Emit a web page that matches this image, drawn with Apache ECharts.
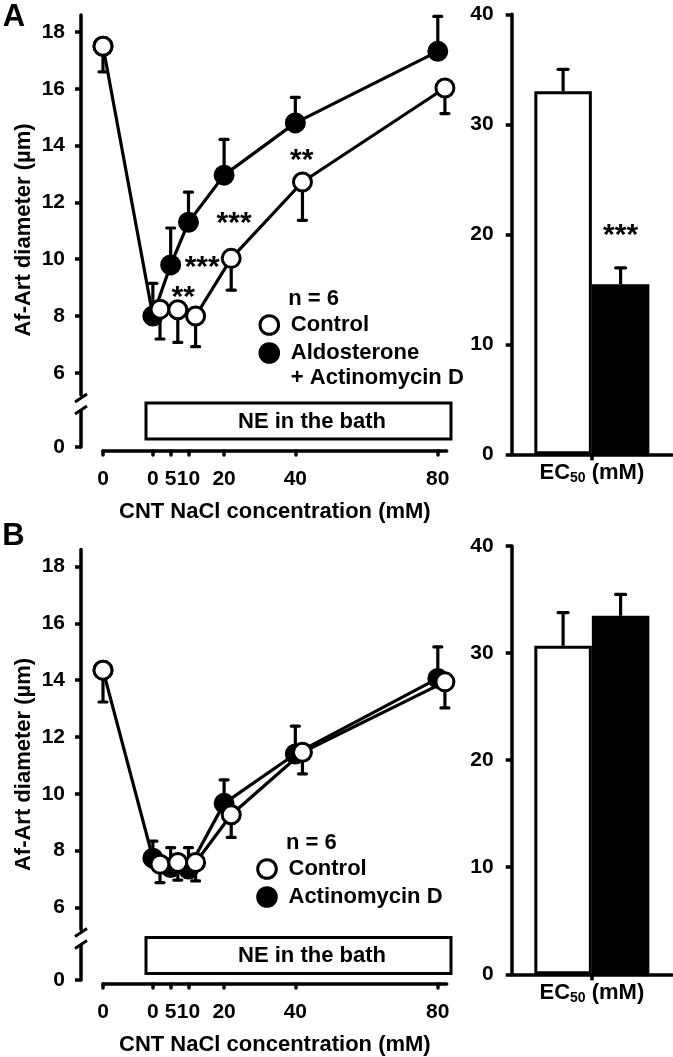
<!DOCTYPE html>
<html><head><meta charset="utf-8">
<script src="https://cdn.jsdelivr.net/npm/echarts@6/dist/echarts.min.js"></script>
<style>html,body{margin:0;padding:0;background:#fff}#c{width:673px;height:1057px}</style>
</head><body><div id="c"></div>
<script>
// ---------- DATA ----------
const baselineX = -14;                 // position of pre-NE baseline point on concentration scale
const concentrations = [0, 5, 10, 20, 40, 80];
const xTickValues = [-14, 0, 5, 10, 20, 40, 80];
const yTicksTop = [6, 8, 10, 12, 14, 16, 18];
const yTicksBottom = [0];
const barCategories = ['EC50 (mM)'];

// Panel A
const aBase = 17.5,  aBaseSem = 0.9;
const aCtrl    = [8.24, 8.22, 8.0, 10.03, 12.72, 16.03];
const aCtrlSem = [1.05, 1.15, 1.08, 1.12, 1.35, 0.9];
const aTrt     = [8.0, 9.8, 11.3, 12.96, 14.8, 17.32];
const aTrtSem  = [1.15, 1.3, 1.06, 1.26, 0.9, 1.23];
const aSig     = [[8.5, 8.89, '**'], [13.85, 9.94, '***'], [22.8, 11.51, '***'], [41.8, 13.71, '**']];
const aEc50    = [33.0, 15.45];
const aEc50Sem = [2.0, 1.5];
const aEc50Sig = ['', '***'];
const aNames   = ['Control', 'Aldosterone + Actinomycin D'];

// Panel B
const bBase = 14.35, bBaseSem = 1.12;
const bCtrl    = [7.52, 7.58, 7.58, 9.26, 11.46, 13.94];
const bCtrlSem = [0.65, 0.62, 0.65, 0.8, 0.76, 0.92];
const bTrt     = [7.73, 7.4, 7.35, 9.66, 11.4, 14.06];
const bTrtSem  = [0.6, 0.7, 0.75, 0.83, 0.98, 1.11];
const bSig     = [];
const bEc50    = [30.68, 33.48];
const bEc50Sem = [3.1, 2.0];
const bEc50Sig = ['', ''];
const bNames   = ['Control', 'Actinomycin D'];

// ---------- STYLE / LAYOUT ----------
const FONT = '"Liberation Sans", Arial, sans-serif';
const CTRL_SHIFT = 2;      // horizontal display offset of control points (mM units) to avoid overlap
const BAR_W = 57.5;
const LW = 3.2;
const txt = (size) => ({color:'#000', fontFamily:FONT, fontWeight:'bold', fontSize:size});

const grids = [], xAxes = [], yAxes = [], series = [], graphics = [];

function errRender(capW) {
  return function (params, api) {
    const x = api.value(0), y = api.value(1), e = api.value(2);
    const p0 = api.coord([x, y]), p1 = api.coord([x, e]);
    return {type:'group', children:[
      {type:'line', shape:{x1:p0[0], y1:p0[1], x2:p1[0], y2:p1[1]}, style:{stroke:'#000', lineWidth:LW}},
      {type:'line', shape:{x1:p1[0]-capW/2, y1:p1[1], x2:p1[0]+capW/2, y2:p1[1]}, style:{stroke:'#000', lineWidth:LW, lineCap:'round'}}
    ]};
  };
}

function addLinePanel(dy, d) {
  const gU = grids.length;
  grids.push({left:103, top:15+dy, width:343.7, height:380});
  const gL = grids.length;
  grids.push({left:103, top:411+dy, width:343.7, height:36});
  const xU = xAxes.length;
  xAxes.push({gridIndex:gU, type:'value', min:-14, max:82.5, show:false});
  const xL = xAxes.length;
  xAxes.push({gridIndex:gL, type:'value', min:-14, max:82.5, position:'bottom', offset:4,
    axisLine:{show:true, onZero:false, lineStyle:{color:'#000', width:3.5, cap:'round'}},
    axisTick:{show:true, length:4, customValues:xTickValues, lineStyle:{color:'#000', width:3.5, cap:'round'}},
    axisLabel:{customValues:xTickValues, margin:18, formatter:v => v === baselineX ? '0' : String(v), ...txt(21)},
    splitLine:{show:false},
    name:'CNT NaCl concentration (mM)', nameLocation:'middle', nameGap:50, nameTextStyle:txt(22)});
  const yU = yAxes.length;
  yAxes.push({gridIndex:gU, type:'value', min:18 - (395-32)/28.4, max:18.6, offset:22,
    axisLine:{show:true, onZero:false, lineStyle:{color:'#000', width:3.5}},
    axisTick:{show:true, length:6, customValues:yTicksTop, lineStyle:{color:'#000', width:3.5}},
    axisLabel:{customValues:yTicksTop, margin:16, ...txt(21)},
    splitLine:{show:false}});
  const yL = yAxes.length;
  yAxes.push({gridIndex:gL, type:'value', min:0, max:36/28.4, offset:22,
    axisLine:{show:true, onZero:false, lineStyle:{color:'#000', width:3.5}},
    axisTick:{show:true, length:6, customValues:yTicksBottom, lineStyle:{color:'#000', width:3.5}},
    axisLabel:{customValues:yTicksBottom, margin:16, ...txt(21)},
    splitLine:{show:false}});

  const ctrlX = concentrations.map(c => c + CTRL_SHIFT);
  const trtPts = [[baselineX, d.base]].concat(concentrations.map((c,i) => [c, d.trt[i]]));
  const ctrlPts = ctrlX.map((c,i) => [c, d.ctrl[i]]);
  const trtErr = concentrations.map((c,i) => [c, d.trt[i], d.trt[i] + d.trtSem[i]]);
  const ctrlErr = [[baselineX, d.base, d.base - d.baseSem]].concat(ctrlX.map((c,i) => [c, d.ctrl[i], d.ctrl[i] - d.ctrlSem[i]]));

  series.push({type:'custom', xAxisIndex:xU, yAxisIndex:yU, renderItem:errRender(8), data:trtErr, z:1, silent:true});
  series.push({type:'custom', xAxisIndex:xU, yAxisIndex:yU, renderItem:errRender(8), data:ctrlErr, z:1, silent:true});
  series.push({type:'line', name:d.names[1], xAxisIndex:xU, yAxisIndex:yU, data:trtPts, z:2,
    symbol:'circle', symbolSize:18, showAllSymbol:true,
    itemStyle:{color:'#000', borderColor:'#000', borderWidth:3}, lineStyle:{color:'#000', width:LW}});
  series.push({type:'line', name:d.names[0], xAxisIndex:xU, yAxisIndex:yU, data:ctrlPts, z:3,
    symbol:'circle', symbolSize:18, showAllSymbol:true,
    itemStyle:{color:'#fff', borderColor:'#000', borderWidth:3}, lineStyle:{color:'#000', width:LW}});
  // shared pre-NE baseline (open marker)
  series.push({type:'scatter', name:'Baseline', xAxisIndex:xU, yAxisIndex:yU, data:[[baselineX, d.base]], z:4,
    symbol:'circle', symbolSize:18, itemStyle:{color:'#fff', borderColor:'#000', borderWidth:3, opacity:1}});
  if (d.sig.length) {
    series.push({type:'scatter', xAxisIndex:xU, yAxisIndex:yU, data:d.sig, z:5, symbolSize:1,
      itemStyle:{color:'rgba(255,255,255,0)'}, silent:true,
      label:{show:true, position:'inside', offset:[0,7], formatter:p => p.data[2], ...txt(30),
        textBorderWidth:0, textBorderColor:'transparent', opacity:1}});
  }

  // axis break marks
  graphics.push({type:'line', shape:{x1:75, y1:402+dy, x2:87, y2:394+dy}, style:{stroke:'#000', lineWidth:3}});
  graphics.push({type:'line', shape:{x1:75, y1:414+dy, x2:87, y2:406+dy}, style:{stroke:'#000', lineWidth:3}});
  // NE box
  graphics.push({type:'rect', shape:{x:146, y:403+dy, width:305, height:36}, style:{fill:'#fff', stroke:'#000', lineWidth:3}});
  graphics.push({type:'text', x:312, y:421.5+dy, style:{text:'NE in the bath', align:'center', verticalAlign:'middle', fill:'#000', font:'bold 22px ' + FONT}});
  // y axis title
  graphics.push({type:'text', x:23.5, y:230+dy, rotation:Math.PI/2, style:{text:'Af-Art diameter (µm)', align:'center', verticalAlign:'middle', fill:'#000', font:'bold 22px ' + FONT}});
  // legend
  const L = d.legend;
  graphics.push({type:'text', x:L.x+19, y:L.y, style:{text:'n = 6', align:'left', verticalAlign:'middle', fill:'#000', font:'bold 22px ' + FONT}});
  graphics.push({type:'circle', shape:{cx:L.x, cy:L.y+26, r:9.3}, style:{fill:'#fff', stroke:'#000', lineWidth:3}});
  graphics.push({type:'text', x:L.x+21.5, y:L.y+26, style:{text:d.names[0], align:'left', verticalAlign:'middle', fill:'#000', font:'bold 22px ' + FONT}});
  graphics.push({type:'circle', shape:{cx:L.x, cy:L.y+54, r:10.8}, style:{fill:'#000', stroke:'#000', lineWidth:0}});
  d.legendLines.forEach((t, k) => graphics.push({type:'text', x:L.x+21.5, y:L.y+54+k*25, style:{text:t, align:'left', verticalAlign:'middle', fill:'#000', font:'bold 22px ' + FONT}}));
}

function addBarPanel(top, height, vals, sems, sig, names) {
  const g = grids.length;
  grids.push({left:511.7, top:top, width:160.3, height:height});
  const xi = xAxes.length;
  xAxes.push({gridIndex:g, type:'category', data:barCategories,
    axisLine:{show:true, lineStyle:{color:'#000', width:3.5}},
    axisTick:{show:true, alignWithLabel:true, length:6, lineStyle:{color:'#000', width:3.5}},
    axisLabel:{margin:7, formatter:() => 'EC{s|50} (mM)', ...txt(22),
      rich:{s:{...txt(14), padding:[10,0,0,0]}}},
    splitLine:{show:false}});
  const yi = yAxes.length;
  yAxes.push({gridIndex:g, type:'value', min:0, max:40, interval:10,
    axisLine:{show:true, onZero:false, lineStyle:{color:'#000', width:3.5}},
    axisTick:{show:true, length:6, lineStyle:{color:'#000', width:3.5}},
    axisLabel:{margin:18, ...txt(21)}, splitLine:{show:false}});
  const colors = ['#fff', '#000'];
  vals.forEach((v, i) => {
    series.push({type:'bar', name:names[i], xAxisIndex:xi, yAxisIndex:yi, data:[v], barWidth:BAR_W, barGap:'0%', z:2,
      itemStyle:{color:colors[i], borderColor:'#000', borderWidth:3},
      label:{show:!!sig[i], position:'top', distance:34, formatter:() => sig[i], ...txt(30)}});
  });
  const errData = vals.map((v, i) => [0, v, v + sems[i], i === 0 ? -1 : 1]);
  series.push({type:'custom', xAxisIndex:xi, yAxisIndex:yi, z:1, silent:true, data:errData,
    renderItem:function (params, api) {
      const side = api.value(3);
      const p0 = api.coord([0, api.value(1)]), p1 = api.coord([0, api.value(2)]);
      const x = p0[0] + side * BAR_W / 2;
      return {type:'group', children:[
        {type:'line', shape:{x1:x, y1:p0[1], x2:x, y2:p1[1]}, style:{stroke:'#000', lineWidth:LW}},
        {type:'line', shape:{x1:x-5, y1:p1[1], x2:x+5, y2:p1[1]}, style:{stroke:'#000', lineWidth:LW, lineCap:'round'}}
      ]};
    }});
}

addLinePanel(0, {base:aBase, baseSem:aBaseSem, ctrl:aCtrl, ctrlSem:aCtrlSem,
  trt:aTrt, trtSem:aTrtSem, sig:aSig, names:aNames,
  legend:{x:269.3, y:299}, legendLines:['Aldosterone', '+ Actinomycin D']});
addBarPanel(14.3, 440, aEc50, aEc50Sem, aEc50Sig, aNames);
addLinePanel(534.5, {base:bBase, baseSem:bBaseSem, ctrl:bCtrl, ctrlSem:bCtrlSem,
  trt:bTrt, trtSem:bTrtSem, sig:bSig, names:bNames,
  legend:{x:267, y:843}, legendLines:['Actinomycin D']});
addBarPanel(546, 428.3, bEc50, bEc50Sem, bEc50Sig, bNames);

graphics.push({type:'text', x:14, y:17.5, style:{text:'A', align:'center', verticalAlign:'middle', fill:'#000', font:'bold 31px ' + FONT}});
graphics.push({type:'text', x:13.5, y:536.5, style:{text:'B', align:'center', verticalAlign:'middle', fill:'#000', font:'bold 31px ' + FONT}});

const chart = echarts.init(document.getElementById('c'));
chart.setOption({
  animation:false,
  backgroundColor:'#fff',
  grid:grids, xAxis:xAxes, yAxis:yAxes, series:series,
  graphic:{elements:graphics}
});
</script></body></html>
